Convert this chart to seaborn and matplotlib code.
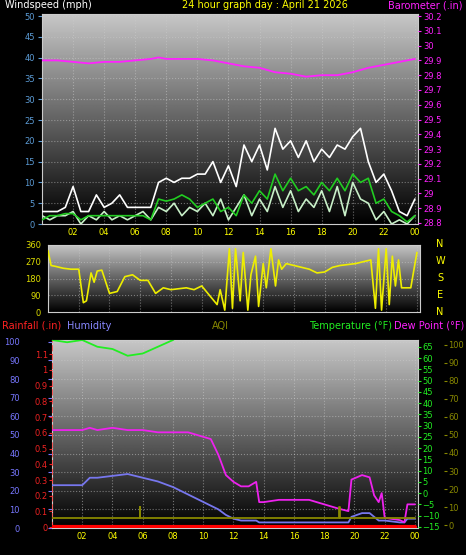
import numpy as np
import pandas as pd
import matplotlib
matplotlib.use("Agg")
import matplotlib.pyplot as plt
import seaborn as sns

sns.set_style("dark")
plt.rcParams['font.family'] = ['DejaVu Sans']

# ---------------- data ----------------
hours = [i * 0.5 for i in range(49)]
wind_gust = [3, 3, 3, 4, 9, 3, 3, 7, 4, 5, 7, 4, 4, 4, 4, 10, 11, 10, 11, 11, 12, 12, 15, 10, 14,
             9, 19, 15, 19, 13, 23, 18, 20, 16, 20, 15, 18, 16, 19, 18, 21, 23, 15, 10, 12, 8, 3, 2, 6]
wind_avg = [2, 1, 2, 2, 3, 0, 2, 1, 3, 1, 2, 1, 2, 3, 1, 4, 3, 5, 2, 4, 3, 5, 2, 6, 1,
            4, 7, 2, 6, 3, 9, 4, 8, 3, 6, 4, 8, 3, 9, 2, 10, 6, 5, 1, 3, 0, 1, 0, 2]
wind_smooth = [1, 2, 2, 2.5, 2.5, 1, 2, 2, 2, 2, 2, 2, 2, 2, 1, 6, 5.5, 6, 7, 6, 4, 5, 6, 3, 4,
               2, 7, 5, 8, 6, 12, 8, 11, 8, 9, 7, 10, 8, 11, 8, 12, 10, 11, 5, 6, 3, 2, 0.5, 2]
baro_hours = [0, 1, 2, 3, 4, 5, 6, 7, 7.5, 8, 9, 10, 11, 12, 13, 14, 15, 16, 17, 18, 19, 20, 21, 22, 23, 24]
baro = [29.90, 29.90, 29.89, 29.88, 29.89, 29.89, 29.90, 29.91, 29.92, 29.91, 29.91, 29.91, 29.90,
        29.88, 29.86, 29.85, 29.82, 29.81, 29.79, 29.80, 29.80, 29.82, 29.85, 29.87, 29.89, 29.91]

dir_hours = [0, 0.2, 0.5, 1, 1.5, 2, 2.3, 2.5, 2.8, 3, 3.2, 3.5, 4, 4.5, 5, 5.5, 6, 6.5, 7, 7.5, 8, 8.5,
             9, 9.5, 10, 10.5, 11, 11.2, 11.5, 11.8, 12, 12.2, 12.5, 12.7, 13, 13.2, 13.5, 13.7, 14, 14.2,
             14.5, 14.8, 15, 15.2, 15.5, 16, 16.5, 17, 17.5, 18, 18.5, 19, 19.5, 20, 20.5, 21, 21.3,
             21.5, 21.7, 22, 22.2, 22.4, 22.6, 22.8, 23, 23.3, 23.6, 24]
wind_dir = [330, 250, 245, 235, 230, 230, 50, 60, 210, 160, 220, 225, 100, 110, 190, 200, 170, 170,
            100, 130, 120, 125, 130, 120, 140, 90, 40, 120, 10, 340, 20, 340, 60, 320, 10, 200, 300, 30,
            260, 130, 340, 140, 280, 230, 260, 250, 240, 230, 210, 215, 240, 250, 255, 260, 270,
            280, 20, 340, 10, 340, 40, 300, 140, 280, 130, 130, 130, 320]

th_hours = [0, 1, 2, 2.5, 3, 4, 5, 6, 7, 8, 9, 10, 10.5, 11, 11.5, 12, 12.5, 13, 13.5, 13.7, 14, 15,
            16, 17, 18, 19, 19.6, 19.8, 20.5, 21, 21.3, 21.6, 21.8, 22, 23, 23.3, 23.5, 24]
dew_point = [28, 28, 28, 29, 28, 29, 28, 28, 27, 27, 27, 25, 24, 17, 8, 5, 3, 3, 5, -4, -4, -3,
             -3, -3, -5, -7, -8, 6, 8, 7, -1, -4, 0, -11, -12, -13, -5, -5]
humidity = [23, 23, 23, 27, 27, 28, 29, 27, 25, 22, 18, 14, 12, 10, 7, 5, 4, 4, 4, 3, 3, 3,
            3, 3, 3, 3, 3, 6, 8, 8, 6, 4, 4, 4, 3, 3, 5, 5]
temp_hours = [0, 1, 2, 3, 4, 5, 6, 7, 8, 8.6]
temperature = [68, 67, 68, 65, 64, 61, 62, 65, 68, 71]
aqi_hours = [0, 5.79, 5.8, 5.81, 18.99, 19.0, 19.01, 24]
aqi = [4, 4, 10, 4, 4, 10, 4, 4]
rain_hours = [0, 24]
rainfall = [0, 0]

xtick_pos = list(range(2, 25, 2))
xtick_lab = ["02", "04", "06", "08", "10", "12", "14", "16", "18", "20", "22", "00"]

# ---------------- figure ----------------
W, H = 466, 555
TS = 6  # tick font size
LS = 7  # label font size
fig = plt.figure(figsize=(W / 100, H / 100), dpi=100, facecolor="black")

def ax_rect(l, t, r, b):
    return [l / W, 1 - b / H, (r - l) / W, (b - t) / H]

grad = np.linspace(0.78, 0.0, 256).reshape(-1, 1)

def style(ax, ylim, yticks, ycolor):
    ax.set_facecolor("black")
    ax.imshow(grad, cmap="gray", vmin=0, vmax=1, aspect="auto",
              extent=[0, 1, 0, 1], transform=ax.transAxes, zorder=0)
    ax.set_xlim(0, 24.2)
    ax.set_ylim(*ylim)
    ax.set_yticks(yticks)
    ax.set_xticks(xtick_pos)
    ax.set_xticklabels(xtick_lab)
    ax.grid(True, color="#cccccc", linestyle=":", linewidth=0.8, alpha=0.5)
    ax.tick_params(axis="x", colors="yellow", labelsize=TS, length=0, pad=3)
    ax.tick_params(axis="y", colors=ycolor, labelsize=TS, length=3, pad=2)
    for s in ax.spines.values():
        s.set_color("#cccccc")
    ax.set_xlabel(""); ax.set_ylabel("")

# top panel
ax1 = fig.add_axes(ax_rect(42, 14, 418, 224))
style(ax1, (0, 50.5), range(0, 51, 5), "#5b9bd5")
sns.lineplot(x=hours, y=wind_gust, ax=ax1, color="white", lw=1.2, zorder=3)
sns.lineplot(x=hours, y=wind_avg, ax=ax1, color="#c8f0c8", lw=1.2, zorder=4)
sns.lineplot(x=hours, y=wind_smooth, ax=ax1, color="#22cc22", lw=1.2, zorder=5)
ax1b = ax1.twinx()
sns.lineplot(x=baro_hours, y=baro, ax=ax1b, color="#ff22ff", lw=1.3)
ax1b.set_ylim(28.8 - 0.14 * 0.05, 28.8 + 50.5 * 0.028)
bt = np.round(np.arange(28.8, 30.25, 0.1), 1)
ax1b.set_yticks(bt)
ax1b.set_yticklabels([f"{v:g}" for v in bt])
ax1b.tick_params(axis="y", colors="#ff22ff", labelsize=TS, length=2, pad=2)
ax1b.set_ylabel("")
fig.text(5 / W, 1 - 5 / H, "Windspeed (mph)", color="white", fontsize=LS, va="center")
fig.text(265 / W, 1 - 5 / H, "24 hour graph day : April 21 2026", color="yellow", fontsize=LS, va="center", ha="center")
fig.text(463 / W, 1 - 5 / H, "Barometer (.in)", color="#ff22ff", fontsize=LS, va="center", ha="right")

# middle panel
ax2 = fig.add_axes(ax_rect(48, 245, 420, 312))
style(ax2, (0, 360), [0, 90, 180, 270, 360], "#dddd00")
sns.lineplot(x=dir_hours, y=wind_dir, ax=ax2, color="#eeee00", lw=1.2, zorder=3)
ax2.set_xticklabels([])
for i, lab in enumerate(["N", "W", "S", "E", "N"]):
    fig.text(440 / W, 1 - (244 + i * 17) / H, lab, color="yellow", fontsize=LS, va="center", ha="center")

# bottom panel
ax3 = fig.add_axes(ax_rect(52, 340, 418, 528))
style(ax3, (0, 101), range(0, 101, 10), "#7777ff")
ax3.tick_params(axis="y", pad=20)
sns.lineplot(x=th_hours, y=humidity, ax=ax3, color="#7777ee", lw=1.3, zorder=4)
ax3.axvline(0, color="#ff4444", lw=1.2, ls="--", zorder=6)
ax3r = ax3.twinx()
sns.lineplot(x=rain_hours, y=rainfall, ax=ax3r, color="#ff0000", lw=3, zorder=6)
ax3r.set_ylim(-0.005, 1.19)
ax3r.yaxis.set_ticks_position("left")
rt = np.round(np.arange(0, 1.15, 0.1), 1)
ax3r.set_yticks(rt)
ax3r.set_yticklabels([f"{v:g}" for v in rt])
ax3r.tick_params(axis="y", colors="#ee2222", labelsize=TS, length=2, pad=1)
ax3t = ax3.twinx()
sns.lineplot(x=temp_hours, y=temperature, ax=ax3t, color="#22ee22", lw=1.3)
sns.lineplot(x=th_hours, y=dew_point, ax=ax3t, color="#ee22ee", lw=1.3)
ax3t.set_ylim(-15.5, 68)
ax3t.set_yticks(range(-15, 70, 5))
ax3t.tick_params(axis="y", colors="#22ee22", labelsize=TS, length=2, pad=1)
ax3a = ax3.twinx()
sns.lineplot(x=aqi_hours, y=aqi, ax=ax3a, color="#888800", lw=1.3, drawstyle="steps-post")
ax3a.set_ylim(-1.5, 102.5)
ax3a.set_yticks(range(0, 101, 10))
ax3a.spines["right"].set_position(("outward", 19))
ax3a.tick_params(axis="y", colors="#888800", labelsize=TS, length=2, pad=1)
for a in (ax3r, ax3t, ax3a, ax1b):
    a.set_ylabel("")
    for s in a.spines.values():
        s.set_visible(False)
fig.text(2 / W, 1 - 326 / H, "Rainfall (.in)", color="#ff2222", fontsize=LS, va="center")
fig.text(67 / W, 1 - 326 / H, "Humidity", color="#8888ff", fontsize=LS, va="center")
fig.text(220 / W, 1 - 326 / H, "AQI", color="#888800", fontsize=LS, va="center", ha="center")
fig.text(392 / W, 1 - 326 / H, "Temperature (°F)", color="#22ee22", fontsize=LS, va="center", ha="right")
fig.text(464 / W, 1 - 326 / H, "Dew Point (°F)", color="#ff22ff", fontsize=LS, va="center", ha="right")

fig.savefig("out.png", dpi=100, facecolor="black")
